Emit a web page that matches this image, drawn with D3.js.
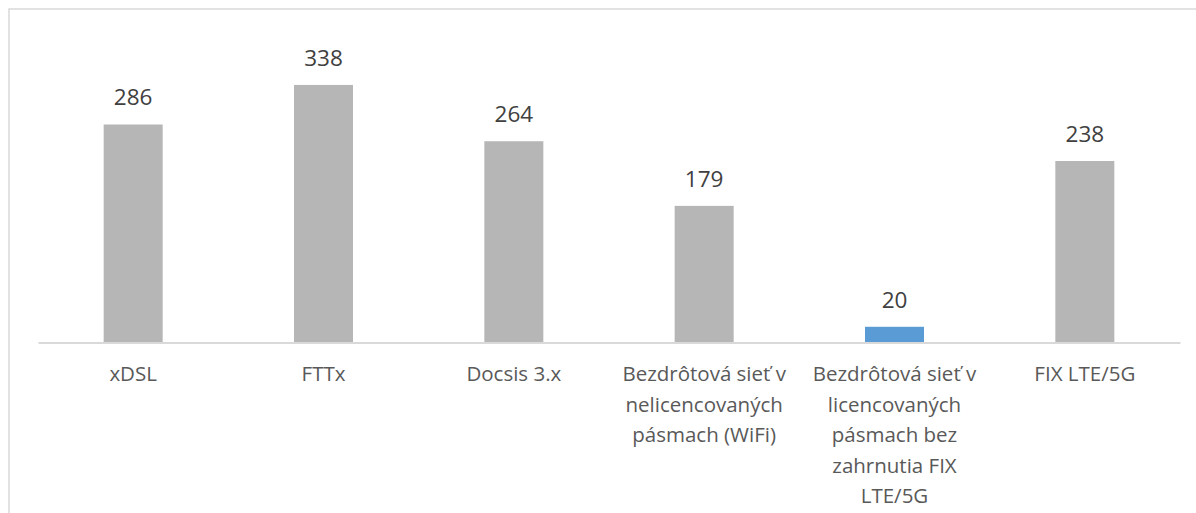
<!DOCTYPE html>
<html>
<head>
<meta charset="utf-8">
<script src="https://cdn.jsdelivr.net/npm/d3@7"></script>
<style>
	body { margin: 0; background: #fff; }
	svg { display: block; font-family: 'Open Sans', sans-serif; }
</style>
</head>
<body>
<svg id="myChart" width="1196" height="513"></svg>
<script>
// Data
const categories = [
	'xDSL',
	'FTTx',
	'Docsis 3.x',
	'Bezdrôtová sieť v nelicencovaných pásmach (WiFi)',
	'Bezdrôtová sieť v licencovaných pásmach bez zahrnutia FIX LTE/5G',
	'FIX LTE/5G'
];
const values = [286, 338, 264, 179, 20, 238];
const highlighted = [false, false, false, false, true, false];

const data = categories.map((c, i) => ({ category: c, value: values[i], hl: highlighted[i] }));

const svg = d3.select('#myChart');

// Chart area border (runs off the right and bottom edge)
svg.append('rect')
	.attr('x', 9)
	.attr('y', 9)
	.attr('width', 1400)
	.attr('height', 700)
	.attr('fill', 'none')
	.attr('stroke', '#d9d9d9')
	.attr('stroke-width', 1.5);

// Scales
const xScale = d3.scaleBand()
	.domain(categories)
	.range([38, 1180])
	.paddingInner(0.69)
	.paddingOuter(0.345);

const yScale = d3.scaleLinear()
	.domain([0, 400])
	.range([342, 37.8]);

// Bars
svg.append('g')
	.selectAll('.bar')
	.data(data)
	.enter()
	.append('rect')
		.attr('class', 'bar')
		.attr('x', d => xScale(d.category))
		.attr('y', d => yScale(d.value))
		.attr('width', xScale.bandwidth())
		.attr('height', d => yScale(0) - yScale(d.value))
		.attr('fill', d => d.hl ? '#5b9bd5' : '#b6b6b6');

// Value labels
svg.append('g')
	.selectAll('.val')
	.data(data)
	.enter()
	.append('text')
		.attr('class', 'val')
		.attr('x', d => xScale(d.category) + xScale.bandwidth() / 2)
		.attr('y', d => yScale(d.value) - 19)
		.attr('text-anchor', 'middle')
		.attr('font-size', 22.5)
		.attr('fill', '#404040')
		.text(d => d.value);

// x-axis (just the baseline, labels done by hand for wrapping)
const xAxis = svg.append('g')
	.attr('class', 'axis axis-x')
	.attr('transform', `translate(0, ${yScale(0) + 0.5})`)
	.call(d3.axisBottom(xScale).tickSize(0).tickFormat(''));

xAxis.select('.domain')
	.attr('stroke', '#d9d9d9')
	.attr('stroke-width', 2);

// Wrapped category labels
const labels = svg.append('g')
	.selectAll('.cat')
	.data(data)
	.enter()
	.append('text')
		.attr('class', 'cat')
		.attr('x', d => xScale(d.category) + xScale.bandwidth() / 2)
		.attr('y', 381)
		.attr('text-anchor', 'middle')
		.attr('font-size', 20.5)
		.attr('fill', '#595959');

labels.each(function(d) {
	wrap(d3.select(this), d.category, 180, 30.5);
});

function wrap(text, str, maxWidth, lineHeight) {
	const words = str.split(' ');
	const x = text.attr('x');
	let line = [];
	let tspan = text.append('tspan').attr('x', x).attr('dy', 0);
	words.forEach(w => {
		line.push(w);
		tspan.text(line.join(' '));
		if (tspan.node().getComputedTextLength() > maxWidth && line.length > 1) {
			line.pop();
			tspan.text(line.join(' '));
			line = [w];
			tspan = text.append('tspan')
				.attr('x', x)
				.attr('dy', lineHeight)
				.text(w);
		}
	});
}
</script>
</body>
</html>
